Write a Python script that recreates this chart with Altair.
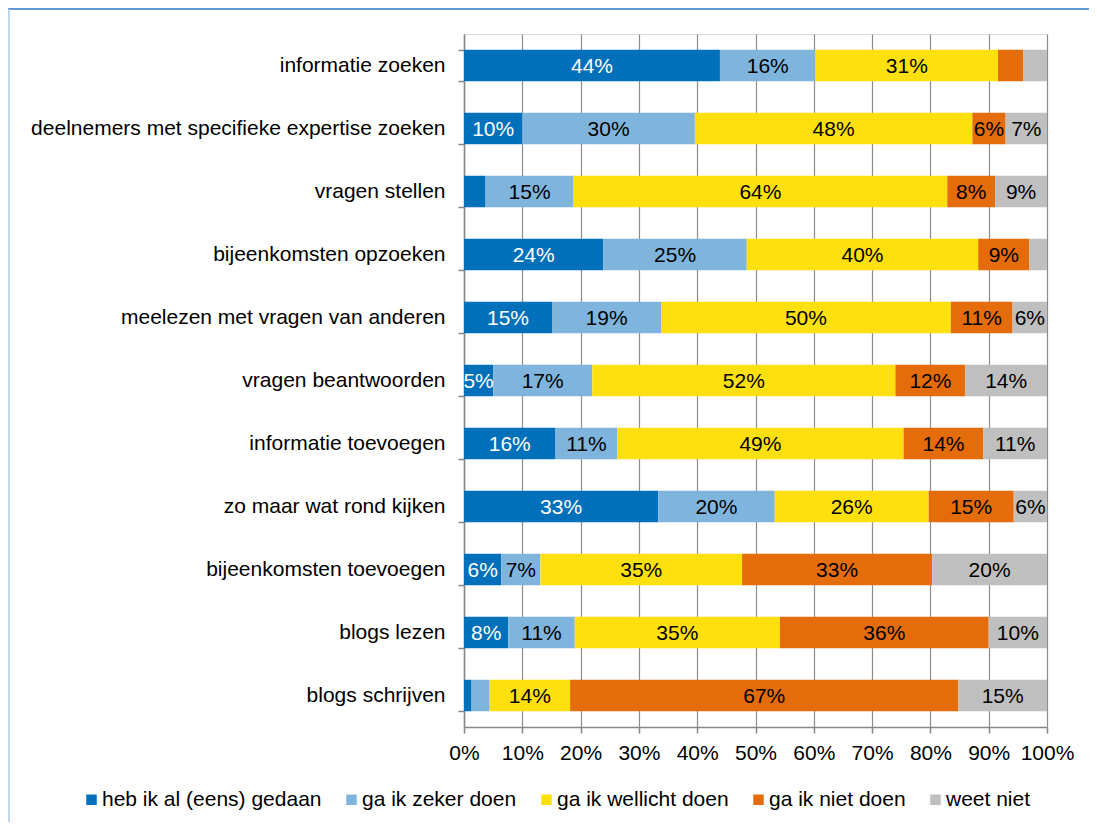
import altair as alt
import pandas as pd

categories = [
    "informatie zoeken",
    "deelnemers met specifieke expertise zoeken",
    "vragen stellen",
    "bijeenkomsten opzoeken\u00a0",
    "meelezen met vragen van anderen",
    "vragen beantwoorden",
    "informatie toevoegen",
    "zo maar wat rond kijken",
    "bijeenkomsten toevoegen\u00a0",
    "blogs lezen",
    "blogs schrijven",
]
series = ["heb ik al (eens) gedaan", "ga ik zeker doen", "ga ik wellicht doen",
          "ga ik niet doen", "weet niet"]
colors = ["#0070BA", "#7FB5DD", "#FFE00F", "#E46C0A", "#BFBFBF"]
text_colors = ["#FFFFFF", "#000000", "#000000", "#000000", "#000000"]

heb = [43.9, 10.0, 3.7, 23.9, 15.1, 5.0, 15.7, 33.3, 6.4, 7.6, 1.3]
zeker = [16.4, 29.6, 15.1, 24.6, 18.7, 17.0, 10.6, 20.0, 6.7, 11.4, 3.1]
wellicht = [31.3, 47.6, 64.1, 39.7, 49.7, 52.0, 49.1, 26.4, 34.6, 35.2, 13.8]
niet = [4.3, 5.7, 8.2, 8.8, 10.6, 12.0, 13.7, 14.6, 32.6, 35.8, 66.6]
weet = [4.1, 7.1, 8.9, 3.0, 5.9, 14.0, 10.9, 5.7, 19.7, 10.0, 15.2]

values = [heb, zeker, wellicht, niet, weet]

rows = []
for i, cat in enumerate(categories):
    start = 0.0
    for j, s in enumerate(series):
        v = values[j][i]
        end = start + v
        rows.append({
            "cat": cat, "series": s, "order": j, "value": v,
            "start": start, "end": end, "mid": (start + end) / 2,
            "label": f"{int(v + 0.5)}%" if v >= 4.5 else "",
            "tc": text_colors[j],
        })
        start = end
df = pd.DataFrame(rows)

FONT = "Liberation Sans"

yenc = alt.Y("cat:N", sort=categories, title=None,
             scale=alt.Scale(paddingInner=0.5, paddingOuter=0.25),
             axis=alt.Axis(labelFontSize=21, labelColor="#000000", labelFont=FONT,
                           labelPadding=13, labelLimit=600, tickSize=6,
                           tickColor="#868686", domainColor="#868686",
                           tickBand="extent", grid=False, domainWidth=1.5, tickWidth=1.5))

bars = alt.Chart(df).mark_bar().encode(
    x=alt.X("start:Q", title=None,
            scale=alt.Scale(domain=[0, 100], nice=False),
            axis=alt.Axis(values=list(range(0, 101, 10)), labelExpr="datum.value + '%'",
                          labelFontSize=21, labelColor="#000000", labelFont=FONT,
                          labelOverlap=False, labelFlush=False,
                          tickSize=6, labelPadding=9, grid=True, gridColor="#8C8C8C",
                          gridWidth=1.2, tickColor="#868686", domainColor="#868686",
                          domainWidth=1.5, tickWidth=1.5)),
    x2="end:Q",
    y=yenc,
    color=alt.Color("series:N", scale=alt.Scale(domain=series, range=colors),
                    legend=alt.Legend(title=None, orient="none", legendX=-383, legendY=755,
                                      direction="horizontal", columns=5, symbolType="square",
                                      symbolSize=110, symbolStrokeWidth=0, labelFontSize=21,
                                      labelFont=FONT, labelColor="#000000", labelOffset=0,
                                      columnPadding=19, labelLimit=400)),
    order=alt.Order("order:Q"),
)

texts = alt.Chart(df).mark_text(fontSize=21, font=FONT, align="center", baseline="middle", dy=1).encode(
    x="mid:Q",
    y=alt.Y("cat:N", sort=categories),
    text="label:N",
    color=alt.Color("tc:N", scale=None),
)

frame_df = pd.DataFrame({"k": [0]})
top_line = alt.Chart(frame_df).mark_rule(color="#2E7BC4", strokeWidth=1.5).encode(
    x=alt.value(-456), x2=alt.value(625), y=alt.value(-25))
left_line = alt.Chart(frame_df).mark_rule(color="#A9CBEA", strokeWidth=1.5).encode(
    x=alt.value(-455), y=alt.value(-25), y2=alt.value(790))

chart = alt.layer(bars, texts, top_line, left_line).properties(
    width=583, height=693,
    autosize=alt.AutoSizeParams(type="none"),
    padding={"left": 456, "top": 26, "right": 42, "bottom": 95},
).configure_view(stroke=None).configure(font=FONT, background="#FFFFFF")

chart.save("out.html", embed_options={"renderer": "svg", "actions": False})
